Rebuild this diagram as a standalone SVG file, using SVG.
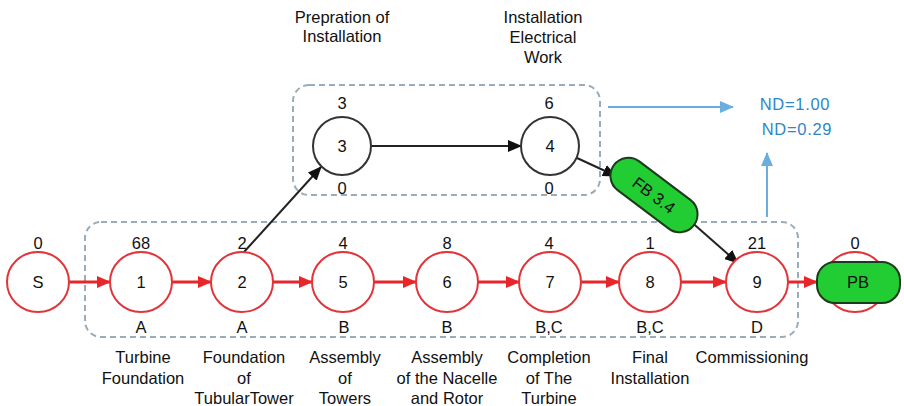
<svg xmlns="http://www.w3.org/2000/svg" width="904" height="406" viewBox="0 0 904 406">
  <defs>
    <style>
      text { font-family: "Liberation Sans", Arial, sans-serif; font-size: 16.5px; fill: #111; text-anchor: middle; }
      .crit { fill: #fff; stroke: #e0353b; stroke-width: 2; }
      .norm { fill: #fff; stroke: #333; stroke-width: 2; }
      .buf { fill: #22cc33; stroke: #1c3a1c; stroke-width: 2; }
      .group { fill: none; stroke: #9aabb9; stroke-width: 2; stroke-dasharray: 6 4; }
      .red { stroke: #e8262a; stroke-width: 3; fill: none; }
      .blk { stroke: #222; stroke-width: 2; fill: none; }
      .blue { stroke: #6aaee0; stroke-width: 2; fill: none; }
      .nd { fill: #2e86c8; letter-spacing: 0.7px; }
    </style>
    <marker id="arrRed" markerWidth="14" markerHeight="12" refX="13" refY="6" orient="auto" markerUnits="userSpaceOnUse">
      <path d="M0,0 L14,6 L0,12 Z" fill="#e8262a"/>
    </marker>
    <marker id="arrBlk" markerWidth="14" markerHeight="12" refX="13" refY="6" orient="auto" markerUnits="userSpaceOnUse">
      <path d="M0,0 L14,6 L0,12 Z" fill="#111"/>
    </marker>
    <marker id="arrBlue" markerWidth="14" markerHeight="12" refX="13" refY="6" orient="auto" markerUnits="userSpaceOnUse">
      <path d="M0,0 L14,6 L0,12 Z" fill="#6aaee0"/>
    </marker>
  </defs>

  <rect width="904" height="406" fill="#fff"/>

  <!-- dashed groupings -->
  <rect class="group" x="293" y="85" width="307" height="110" rx="16"/>
  <rect class="group" x="85" y="222" width="713" height="115" rx="16"/>

  <!-- upper captions -->
  <text x="342" y="23">Prepration of</text>
  <text x="342" y="42">Installation</text>
  <text x="543" y="23">Installation</text>
  <text x="543" y="43">Electrical</text>
  <text x="543" y="63">Work</text>

  <!-- connectors -->
  <g id="connectors">
    <line class="red" x1="69" y1="282" x2="110" y2="282" marker-end="url(#arrRed)"/>
    <line class="red" x1="172" y1="282" x2="211" y2="282" marker-end="url(#arrRed)"/>
    <line class="red" x1="273" y1="282" x2="312" y2="282" marker-end="url(#arrRed)"/>
    <line class="red" x1="374" y1="282" x2="416" y2="282" marker-end="url(#arrRed)"/>
    <line class="red" x1="478" y1="282" x2="519" y2="282" marker-end="url(#arrRed)"/>
    <line class="red" x1="581" y1="282" x2="619" y2="282" marker-end="url(#arrRed)"/>
    <line class="red" x1="681" y1="282" x2="726" y2="282" marker-end="url(#arrRed)"/>
    <line class="red" x1="788" y1="282" x2="817" y2="282" marker-end="url(#arrRed)"/>
    <line class="blk" x1="244" y1="252" x2="321" y2="167" marker-end="url(#arrBlk)"/>
    <line class="blk" x1="371" y1="146" x2="521" y2="146" marker-end="url(#arrBlk)"/>
    <line class="blk" x1="577" y1="158" x2="616" y2="176" marker-end="url(#arrBlk)"/>
    <line class="blk" x1="688" y1="219" x2="738" y2="263" marker-end="url(#arrBlk)"/>
    <line class="blue" x1="608" y1="107" x2="733" y2="107" marker-end="url(#arrBlue)"/>
    <line class="blue" x1="767" y1="217" x2="767" y2="153" marker-end="url(#arrBlue)"/>
  </g>

  <!-- duration readouts -->
  <text class="nd" x="795" y="110">ND=1.00</text>
  <text class="nd" x="797" y="135">ND=0.29</text>

  <!-- activity nodes -->
  <g id="node-S">
    <text x="38" y="249">0</text>
    <ellipse class="crit" cx="38" cy="282" rx="31" ry="30"/>
    <text x="38" y="288">S</text>
  </g>
  <g id="node-1">
    <text x="141" y="249">68</text>
    <ellipse class="crit" cx="141" cy="282" rx="31" ry="30"/>
    <text x="141" y="288">1</text>
    <text x="141" y="333">A</text>
    <text x="143" y="363">Turbine</text>
    <text x="143" y="384">Foundation</text>
  </g>
  <g id="node-2">
    <text x="242" y="249">2</text>
    <ellipse class="crit" cx="242" cy="282" rx="31" ry="30"/>
    <text x="242" y="288">2</text>
    <text x="242" y="333">A</text>
    <text x="244" y="363">Foundation</text>
    <text x="244" y="384">of</text>
    <text x="244" y="404">TubularTower</text>
  </g>
  <g id="node-5">
    <text x="343" y="249">4</text>
    <ellipse class="crit" cx="343" cy="282" rx="31" ry="30"/>
    <text x="343" y="288">5</text>
    <text x="344" y="333">B</text>
    <text x="345" y="363">Assembly</text>
    <text x="345" y="384">of</text>
    <text x="345" y="404">Towers</text>
  </g>
  <g id="node-6">
    <text x="447" y="249">8</text>
    <ellipse class="crit" cx="447" cy="282" rx="31" ry="30"/>
    <text x="447" y="288">6</text>
    <text x="447" y="333">B</text>
    <text x="447" y="363">Assembly</text>
    <text x="447" y="384">of the Nacelle</text>
    <text x="447" y="404">and Rotor</text>
  </g>
  <g id="node-7">
    <text x="549" y="249">4</text>
    <ellipse class="crit" cx="550" cy="282" rx="31" ry="30"/>
    <text x="550" y="288">7</text>
    <text x="549" y="333">B,C</text>
    <text x="549" y="363">Completion</text>
    <text x="549" y="384">of The</text>
    <text x="549" y="404">Turbine</text>
  </g>
  <g id="node-8">
    <text x="650" y="249">1</text>
    <ellipse class="crit" cx="650" cy="282" rx="31" ry="30"/>
    <text x="650" y="288">8</text>
    <text x="650" y="333">B,C</text>
    <text x="650" y="363">Final</text>
    <text x="650" y="384">Installation</text>
  </g>
  <g id="node-9">
    <text x="757" y="249">21</text>
    <ellipse class="crit" cx="757" cy="282" rx="31" ry="30"/>
    <text x="757" y="288">9</text>
    <text x="757" y="333">D</text>
    <text x="752" y="363">Commissioning</text>
  </g>
  <g id="node-PB">
    <text x="855" y="249">0</text>
    <ellipse class="crit" cx="855" cy="282" rx="31" ry="30"/>
    <rect class="buf" x="817" y="262" width="83" height="41" rx="18"/>
    <text x="858" y="288">PB</text>
  </g>
  <g id="node-3">
    <text x="342" y="109">3</text>
    <circle class="norm" cx="342" cy="146" r="29"/>
    <text x="342" y="152">3</text>
    <text x="342" y="194">0</text>
  </g>
  <g id="node-4">
    <text x="549" y="109">6</text>
    <circle class="norm" cx="550" cy="146" r="29"/>
    <text x="550" y="152">4</text>
    <text x="549" y="194">0</text>
  </g>
  <g id="node-FB">
    <g transform="translate(654,195) rotate(37)">
      <rect class="buf" x="-50" y="-18" width="100" height="36" rx="18"/>
      <text x="0" y="6">FB 3.4</text>
    </g>
  </g>
</svg>
